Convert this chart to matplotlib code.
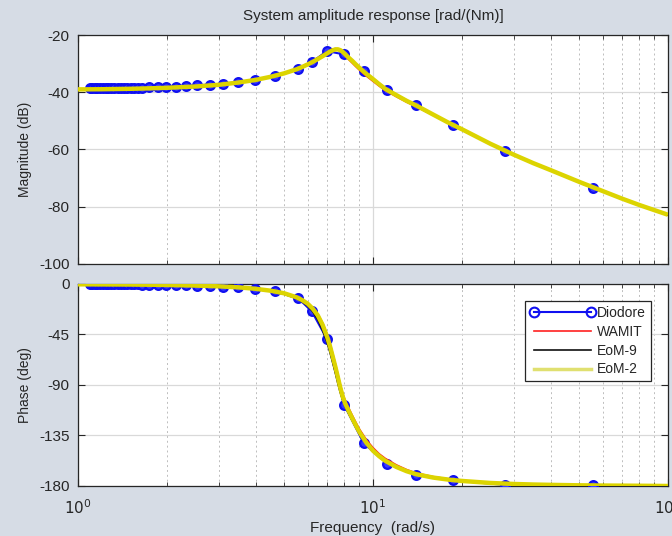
import matplotlib
matplotlib.use("Agg")
import matplotlib.pyplot as plt
from matplotlib.ticker import LogLocator, NullFormatter, FixedLocator
from matplotlib.lines import Line2D

plt.rcParams['font.family'] = ['Liberation Sans', 'DejaVu Sans']
plt.rcParams['axes.unicode_minus'] = False

# ---------------- data ----------------
# Diodore (markers)
diodore_w = [1.095, 1.117, 1.140, 1.164, 1.188, 1.214, 1.241, 1.269, 1.299, 1.330,
             1.362, 1.396, 1.432, 1.470, 1.509, 1.551, 1.596, 1.643, 1.745, 1.862,
             1.995, 2.148, 2.327, 2.539, 2.793, 3.103, 3.491, 3.989, 4.654, 5.585,
             6.206, 6.981, 7.979, 9.308, 11.17, 13.96, 18.62, 27.93, 55.85]
diodore_mag = [-38.6, -38.6, -38.6, -38.6, -38.6, -38.6, -38.6, -38.55, -38.55, -38.5,
               -38.5, -38.5, -38.5, -38.45, -38.45, -38.4, -38.4, -38.35, -38.3, -38.2,
               -38.1, -38.0, -37.8, -37.6, -37.3, -37.0, -36.5, -35.6, -34.4, -31.8,
               -29.5, -25.6, -26.8, -32.6, -39.2, -44.5, -51.4, -60.5, -73.5]
diodore_phase = [0.0, 0.0, 0.0, 0.0, 0.0, 0.0, 0.0, -0.1, -0.1, -0.1,
                 -0.1, -0.2, -0.2, -0.2, -0.3, -0.3, -0.4, -0.5, -0.6, -0.8,
                 -0.9, -1.0, -1.2, -1.5, -1.8, -2.3, -3.0, -4.2, -6.5, -12.8,
                 -24.5, -49.0, -107.5, -142.0, -160.0, -170.0, -175.0, -179.0, -179.5]

# Model curves (shared frequency grid)
curve_w = [1.0, 1.2, 1.5, 1.8, 2.0, 2.5, 3.0, 3.5, 4.0, 4.5, 5.0, 5.5, 5.75, 6.0,
           6.25, 6.5, 6.75, 7.0, 7.15, 7.3, 7.45, 7.6, 7.75, 7.9, 8.05, 8.25, 8.5,
           8.75, 9.0, 9.5, 10, 10.5, 11, 12, 13, 14, 16, 18, 20, 25, 30, 35, 40,
           50, 60, 70, 80, 90, 100]

eom2_mag = [-39.0, -38.95, -38.8, -38.6, -38.45, -38.0, -37.4, -36.6, -35.7, -34.6,
            -33.4, -32.0, -31.2, -30.3, -29.4, -28.4, -27.4, -26.4, -25.8, -25.35,
            -25.05, -25.0, -25.3, -25.9, -26.7, -27.8, -29.0, -30.3, -31.5, -33.6,
            -35.4, -37.2, -38.8, -41.0, -43.0, -44.6, -47.8, -50.6, -52.9, -58.0,
            -61.8, -64.8, -67.2, -71.3, -74.5, -77.2, -79.4, -81.2, -82.8]
eom9_mag = [-39.0, -38.95, -38.8, -38.6, -38.45, -38.0, -37.4, -36.5, -35.6, -34.5,
            -33.3, -31.9, -31.0, -30.1, -29.1, -28.1, -27.0, -26.0, -25.4, -25.0,
            -24.8, -24.9, -25.3, -26.0, -26.9, -28.0, -29.3, -30.6, -31.8, -33.9,
            -35.7, -37.4, -39.0, -41.2, -43.1, -44.7, -47.8, -50.6, -52.9, -58.0,
            -61.8, -64.8, -67.2, -71.3, -74.5, -77.2, -79.4, -81.2, -82.8]
wamit_mag = [-39.0, -38.95, -38.8, -38.6, -38.45, -38.0, -37.4, -36.6, -35.7, -34.6,
             -33.4, -32.0, -31.2, -30.3, -29.4, -28.4, -27.4, -26.5, -25.9, -25.5,
             -25.2, -25.2, -25.6, -26.3, -27.2, -28.4, -29.7, -31.0, -32.2, -34.3,
             -36.1, -37.8, -39.3, -41.5, -43.4, -45.0, -48.0, -50.7, -53.0, -58.1,
             -61.9, -64.9, -67.3, -71.4, -74.6, -77.3, -79.5, -81.3, -82.9]

eom2_phase = [-0.3, -0.4, -0.5, -0.7, -0.9, -1.4, -2.1, -3.0, -4.3, -6.0,
              -8.3, -11.8, -14.3, -17.5, -22.0, -28.0, -36.5, -47.5, -55.5, -64.5,
              -73.5, -83.0, -92.5, -100.5, -106.5, -112.5, -119.5, -126.0, -132.0, -141.5,
              -148.5, -153.5, -157.5, -163.0, -166.8, -169.5, -172.5, -174.3, -175.5, -177.3,
              -178.2, -178.7, -179.0, -179.4, -179.6, -179.7, -179.8, -179.9, -180.0]
eom9_phase = [-0.3, -0.4, -0.5, -0.7, -0.9, -1.4, -2.2, -3.2, -4.6, -6.5,
              -9.0, -12.8, -15.6, -19.3, -24.5, -31.5, -41.0, -52.5, -60.5, -69.5,
              -78.5, -88.0, -96.5, -103.5, -109.0, -114.5, -121.0, -127.5, -133.5, -142.5,
              -149.0, -154.0, -158.0, -163.3, -167.0, -169.7, -172.6, -174.4, -175.6, -177.3,
              -178.2, -178.7, -179.0, -179.4, -179.6, -179.7, -179.8, -179.9, -180.0]
wamit_phase = [-0.3, -0.4, -0.5, -0.7, -0.9, -1.4, -2.1, -3.0, -4.3, -6.0,
               -8.2, -11.6, -14.0, -17.0, -21.3, -27.0, -35.0, -45.5, -53.0, -62.0,
               -71.0, -80.5, -90.0, -98.0, -104.0, -110.0, -117.0, -123.5, -129.5, -139.0,
               -146.0, -151.5, -155.5, -161.3, -165.5, -168.5, -171.8, -173.8, -175.1, -177.1,
               -178.1, -178.6, -179.0, -179.4, -179.6, -179.7, -179.8, -179.9, -180.0]

mag_ticks = [-100, -80, -60, -40, -20]
phase_ticks = [-180, -135, -90, -45, 0]

title_text = "System amplitude response [rad/(Nm)]"
series_names = ["Diodore", "WAMIT", "EoM-9", "EoM-2"]

# ---------------- style ----------------
BG = '#d6dce5'
TXT = '#262626'
BLUE = '#1010f0'
RED = '#ff2020'
BLACK = '#101010'
YELLOW = '#dcd400'

fig = plt.figure(figsize=(6.72, 5.36), dpi=100, facecolor=BG)
ax1 = fig.add_axes([0.116, 0.5075, 0.878, 0.4272])
ax2 = fig.add_axes([0.116, 0.0933, 0.878, 0.3769])


def style_axes(ax, yticks, ylim):
    ax.set_xscale('log')
    ax.set_xlim(1, 100)
    ax.set_ylim(*ylim)
    ax.set_yticks(yticks)
    ax.xaxis.set_major_locator(FixedLocator([1, 10, 100]))
    ax.xaxis.set_minor_locator(LogLocator(base=10, subs=range(2, 10), numticks=20))
    ax.xaxis.set_minor_formatter(NullFormatter())
    ax.grid(True, which='major', color='#d9d9d9', linestyle='-', linewidth=0.9)
    ax.grid(True, which='minor', axis='x', color='#bdbdbd', linestyle=(0, (2, 3)), linewidth=0.7)
    ax.set_axisbelow(True)
    ax.tick_params(which='both', direction='in', top=True, right=True,
                   colors=TXT, labelsize=11, labelcolor=TXT)
    ax.tick_params(which='major', length=5, width=0.8)
    ax.tick_params(which='minor', length=3, width=0.6)
    ax.tick_params(axis='y', pad=6)
    for s in ax.spines.values():
        s.set_color(TXT)
        s.set_linewidth(0.9)


def draw(ax, yd, yw, y9, y2):
    ax.plot(diodore_w, yd, color=BLUE, lw=1.5, marker='o', ms=6.3, mfc='#3a3aff',
            mec=BLUE, mew=1.6, zorder=3)
    ax.plot(curve_w, yw, color=RED, lw=1.4, zorder=4)
    ax.plot(curve_w, y9, color=BLACK, lw=1.4, zorder=5)
    ax.plot(curve_w, y2, color=YELLOW, lw=3.2, zorder=6, solid_capstyle='butt',
            solid_joinstyle='round')


draw(ax1, diodore_mag, wamit_mag, eom9_mag, eom2_mag)
draw(ax2, diodore_phase, wamit_phase, eom9_phase, eom2_phase)

style_axes(ax1, mag_ticks, (-100, -20))
style_axes(ax2, phase_ticks, (-180, 0))
ax1.tick_params(axis='x', labelbottom=False)
ax2.set_xticklabels(['$10^0$', '$10^1$', '$10^2$'])
ax2.tick_params(axis='x', pad=9)

ax1.set_ylabel('Magnitude (dB)', fontsize=10, color=TXT, labelpad=5)
ax2.set_ylabel('Phase (deg)', fontsize=10, color=TXT, labelpad=5)
ax2.set_xlabel('Frequency  (rad/s)', fontsize=11, color=TXT, labelpad=3)
ax1.set_title(title_text, fontsize=11, color=TXT, pad=10.5)

handles = [
    Line2D([], [], color=BLUE, lw=1.5, marker='o', ms=7, mfc='none', mec=BLUE, mew=1.5),
    Line2D([], [], color=RED, lw=1.2),
    Line2D([], [], color=BLACK, lw=1.2),
    Line2D([], [], color='#e0e070', lw=2.5),
]
leg = ax2.legend(handles, series_names, loc='upper right', bbox_to_anchor=(0.971, 0.916),
                 fontsize=10, frameon=True, fancybox=False, framealpha=1,
                 edgecolor='#262626', handlelength=4.7, handletextpad=0.15,
                 borderpad=0.35, labelspacing=0.35, numpoints=2, borderaxespad=0)
leg.get_frame().set_linewidth(0.9)
for t in leg.get_texts():
    t.set_color(TXT)

fig.savefig('out.png', dpi=100, facecolor=BG)
